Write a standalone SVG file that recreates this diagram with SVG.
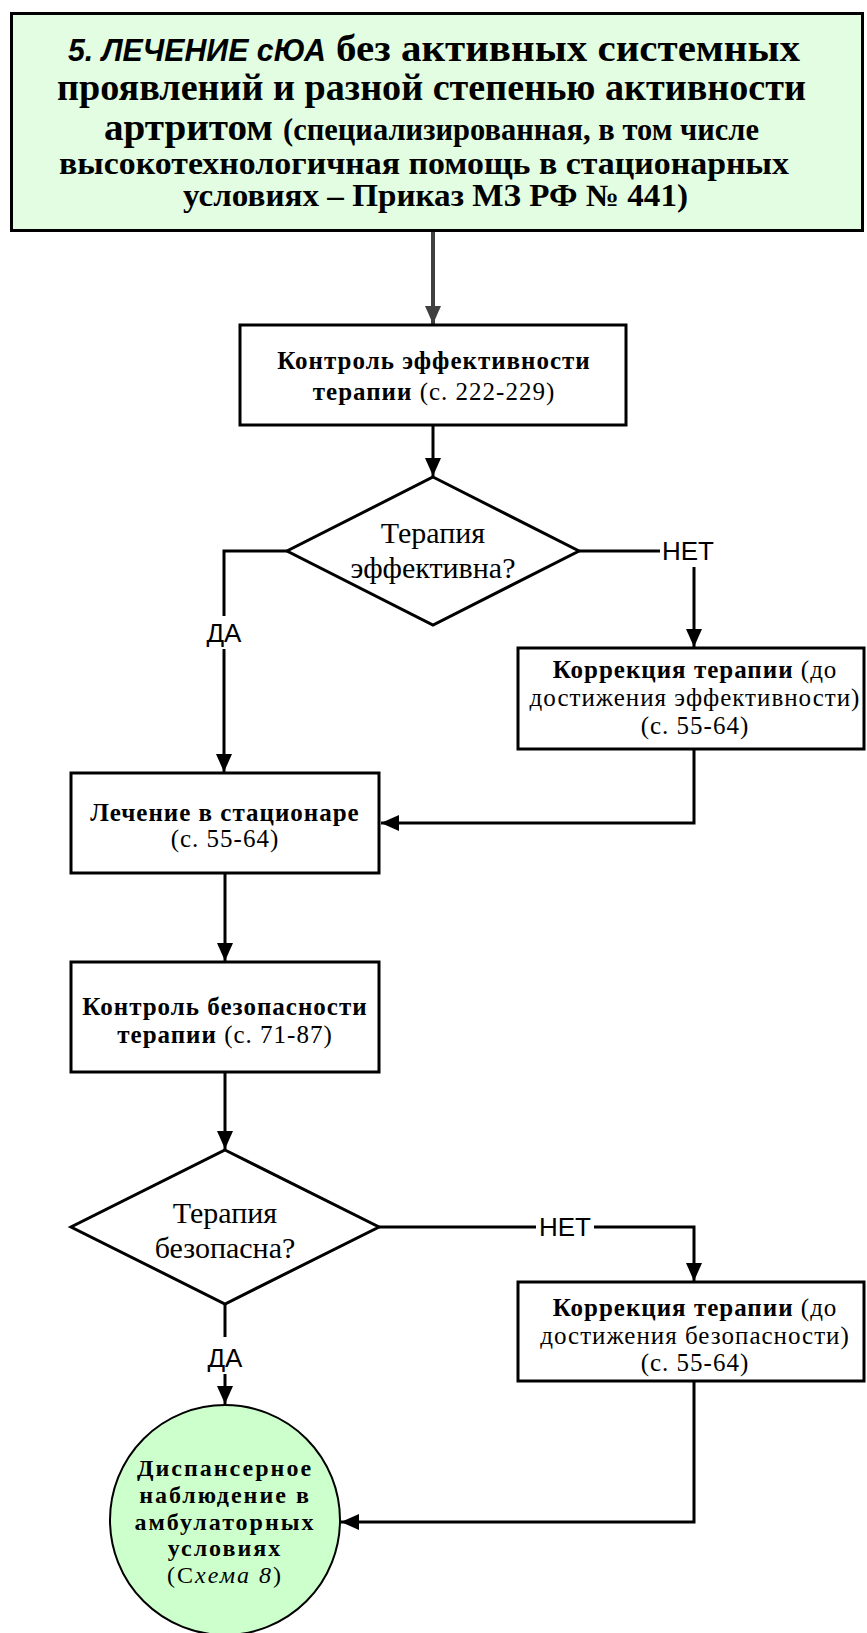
<svg xmlns="http://www.w3.org/2000/svg" width="867" height="1633" viewBox="0 0 867 1633">
<style>
.box{fill:#fff;stroke:#000;stroke-width:3}
.ln{fill:none;stroke:#000;stroke-width:3}
.serif{font-family:"Liberation Serif","Times New Roman",serif;fill:#000}
.sans{font-family:"Liberation Sans",Arial,sans-serif;fill:#000}
.tb{font-weight:bold;font-size:37px}
.ts{font-weight:bold;font-size:31px}
.nb{font-weight:bold}
.nt{font-size:25px;letter-spacing:1px}
.dt{font-size:30px}
.ct{font-size:24px;letter-spacing:2px}
.lbl{font-size:26px}
</style>
<defs>
<marker id="ah" markerUnits="userSpaceOnUse" markerWidth="18" markerHeight="16" refX="18" refY="8" orient="auto"><path d="M0,0 L18,8 L0,16 z" fill="#000"/></marker>
<marker id="ahg" markerUnits="userSpaceOnUse" markerWidth="18" markerHeight="16" refX="18" refY="8" orient="auto"><path d="M0,0 L18,8 L0,16 z" fill="#404040"/></marker>
</defs>
<rect width="867" height="1633" fill="#fff"/>

<g id="connectors">
<line x1="433" y1="232" x2="433" y2="324" stroke="#404040" stroke-width="4" marker-end="url(#ahg)"/>
<line class="ln" x1="433" y1="425" x2="433" y2="476" marker-end="url(#ah)"/>
<path class="ln" d="M287,551 H224 V616"/>
<line class="ln" x1="224" y1="649" x2="224" y2="772" marker-end="url(#ah)"/>
<text class="sans lbl" x="224" y="642" text-anchor="middle">ДА</text>
<path class="ln" d="M579,551 H660"/>
<text class="sans lbl" x="688" y="560" text-anchor="middle">НЕТ</text>
<line class="ln" x1="694" y1="567" x2="694" y2="647" marker-end="url(#ah)"/>
<path class="ln" d="M694,749 V823 H381" marker-end="url(#ah)"/>
<line class="ln" x1="225" y1="873" x2="225" y2="961" marker-end="url(#ah)"/>
<line class="ln" x1="225" y1="1072" x2="225" y2="1149" marker-end="url(#ah)"/>
<path class="ln" d="M225,1304 V1337"/>
<text class="sans lbl" x="225" y="1367" text-anchor="middle">ДА</text>
<line class="ln" x1="225" y1="1374" x2="225" y2="1404" marker-end="url(#ah)"/>
<path class="ln" d="M379,1227 H536"/>
<text class="sans lbl" x="565" y="1236" text-anchor="middle">НЕТ</text>
<path class="ln" d="M594,1227 H694 V1281" marker-end="url(#ah)"/>
<path class="ln" d="M694,1381 V1522 H341" marker-end="url(#ah)"/>
</g>

<g id="title">
<rect x="11.5" y="13.5" width="851" height="217" fill="#e2fde2" stroke="#000" stroke-width="3"/>
<text class="sans" x="68" y="61" font-size="31" font-weight="bold" font-style="italic" textLength="258" lengthAdjust="spacingAndGlyphs">5. ЛЕЧЕНИЕ сЮА</text>
<text class="serif tb" x="336" y="61" textLength="464" lengthAdjust="spacingAndGlyphs">без активных системных</text>
<text class="serif tb" x="57" y="100" textLength="749" lengthAdjust="spacingAndGlyphs">проявлений и разной степенью активности</text>
<text class="serif tb" x="104" y="140" textLength="169" lengthAdjust="spacingAndGlyphs">артритом</text>
<text class="serif ts" x="283" y="140" textLength="476" lengthAdjust="spacingAndGlyphs">(специализированная, в том числе</text>
<text class="serif ts" x="59" y="174" textLength="730" lengthAdjust="spacingAndGlyphs">высокотехнологичная помощь в стационарных</text>
<text class="serif ts" x="183" y="206" textLength="505" lengthAdjust="spacingAndGlyphs">условиях – Приказ МЗ РФ № 441)</text>
</g>

<g id="n_control_eff">
<rect class="box" x="240" y="325" width="386" height="100"/>
<text class="serif nt" x="434" y="369" text-anchor="middle"><tspan class="nb">Контроль эффективности</tspan></text>
<text class="serif nt" x="434" y="400" text-anchor="middle"><tspan class="nb">терапии</tspan> (с. 222-229)</text>
</g>

<g id="d_effective">
<polygon class="box" points="433,477 579,551 433,625 287,551"/>
<text class="serif dt" x="433" y="543" text-anchor="middle">Терапия</text>
<text class="serif dt" x="433" y="578" text-anchor="middle">эффективна?</text>
</g>

<g id="n_correction_eff">
<rect class="box" x="518" y="648" width="346" height="101"/>
<text class="serif nt" x="695" y="678" text-anchor="middle"><tspan class="nb">Коррекция терапии</tspan> (до</text>
<text class="serif nt" x="695" y="706" text-anchor="middle" letter-spacing="0.5">достижения эффективности)</text>
<text class="serif nt" x="695" y="734" text-anchor="middle">(с. 55-64)</text>
</g>

<g id="n_hospital">
<rect class="box" x="71" y="773" width="308" height="100"/>
<text class="serif nt" x="225" y="821" text-anchor="middle"><tspan class="nb">Лечение в стационаре</tspan></text>
<text class="serif nt" x="225" y="847" text-anchor="middle">(с. 55-64)</text>
</g>

<g id="n_control_safe">
<rect class="box" x="71" y="962" width="308" height="110"/>
<text class="serif nt" x="225" y="1015" text-anchor="middle"><tspan class="nb">Контроль безопасности</tspan></text>
<text class="serif nt" x="225" y="1043" text-anchor="middle"><tspan class="nb">терапии</tspan> (с. 71-87)</text>
</g>

<g id="d_safe">
<polygon class="box" points="225,1150 379,1227 225,1304 71,1227"/>
<text class="serif dt" x="225" y="1223" text-anchor="middle">Терапия</text>
<text class="serif dt" x="225" y="1258" text-anchor="middle">безопасна?</text>
</g>

<g id="n_correction_safe">
<rect class="box" x="518" y="1282" width="346" height="99"/>
<text class="serif nt" x="695" y="1316" text-anchor="middle"><tspan class="nb">Коррекция терапии</tspan> (до</text>
<text class="serif nt" x="695" y="1344" text-anchor="middle" letter-spacing="0.5">достижения безопасности)</text>
<text class="serif nt" x="695" y="1371" text-anchor="middle">(с. 55-64)</text>
</g>

<g id="n_dispensary">
<circle cx="225" cy="1520" r="115" fill="#ccffcc" stroke="#000" stroke-width="2"/>
<text class="serif ct nb" x="225" y="1476" text-anchor="middle">Диспансерное</text>
<text class="serif ct nb" x="225" y="1503" text-anchor="middle">наблюдение в</text>
<text class="serif ct nb" x="225" y="1530" text-anchor="middle">амбулаторных</text>
<text class="serif ct nb" x="225" y="1556" text-anchor="middle">условиях</text>
<text class="serif ct" x="225" y="1583" text-anchor="middle" letter-spacing="1">(С<tspan font-style="italic">хема 8</tspan>)</text>
</g>
</svg>
